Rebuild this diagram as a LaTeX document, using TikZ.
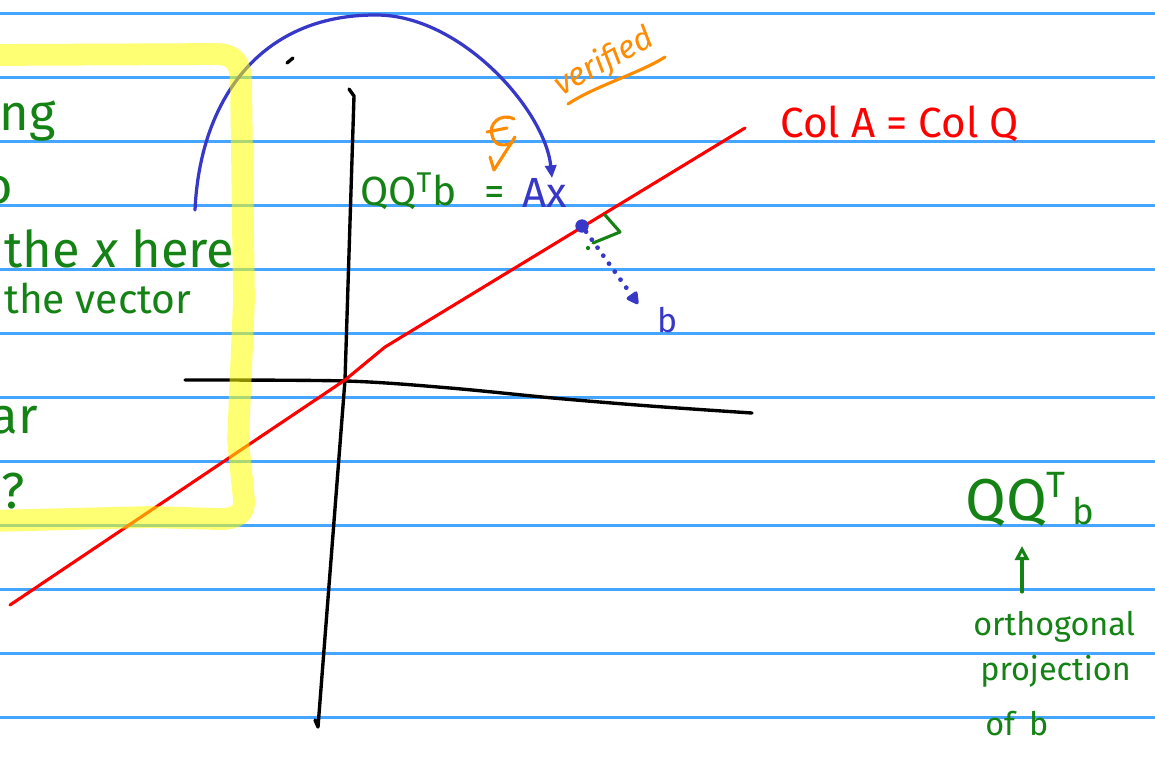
\documentclass[tikz,border=0pt]{standalone}
\usepackage{fontspec}
\setmainfont{Fira Sans}
\usetikzlibrary{arrows.meta}
\definecolor{ink}{RGB}{20,130,20}
\definecolor{pen}{RGB}{55,55,200}
\definecolor{hl}{RGB}{255,255,0}
\definecolor{org}{RGB}{255,140,0}
\definecolor{paperline}{RGB}{70,165,255}
\begin{document}
\begin{tikzpicture}[x=0.025cm,y=-0.025cm,
  ruleline/.style={draw=paperline, line width=1.5pt},
  axisline/.style={black, line width=2.4pt, line cap=round, line join=round},
  redline/.style={red, line width=2.2pt, line cap=round, line join=round},
  penline/.style={pen, line width=2.3pt, line cap=round, line join=round},
  orgline/.style={org, line width=2.2pt, line cap=round, line join=round},
  inkline/.style={ink, line width=2.2pt, line cap=round, line join=round},
  hlbox/.style={hl, draw opacity=0.55, line width=15.5pt, line cap=round, line join=round},
  greentxt/.style={text=ink, inner sep=0pt},
  bluetxt/.style={text=pen, inner sep=0pt},
  redtxt/.style={text=red, inner sep=0pt},
  orgtxt/.style={text=org, inner sep=0pt},
]
\clip (0,0) rectangle (1155,759);
\fill[white] (0,0) rectangle (1155,759);
\foreach \k in {0,...,11} {\draw[ruleline] (0,{13.5+64*\k}) -- (1155,{13.5+64*\k});}

% left (cut-off) text
\node[greentxt, anchor=base east, font=\fontsize{36}{40}\selectfont] (t1) at (56,130) {ng};
\node[greentxt, anchor=base east, font=\fontsize{36}{40}\selectfont] (t2) at (13,203) {o};
\node[greentxt, anchor=base west, font=\fontsize{36}{40}\selectfont] (t3) at (4,267) {the \textit{x} here};
\node[greentxt, anchor=base west, font=\fontsize{29}{34}\selectfont] (t4) at (4,313) {the vector};
\node[greentxt, anchor=base east, font=\fontsize{36}{40}\selectfont] (t5) at (38,433) {ar};
\node[greentxt, anchor=base east, font=\fontsize{36}{40}\selectfont] (t6) at (25,508) {?};

% axes
\draw[axisline] (349,89) -- (354,96) -- (345,380) -- (318,727) -- (315,720);
\draw[axisline] plot[smooth] coordinates {(185,380) (346,381) (450,388) (553,398) (650,406) (752,413)};
\draw[axisline] (287,63) -- (293,58);

% column space line
\draw[redline] (10,605) -- (345,380) -- (385,347) -- (745,128);
\node[redtxt, anchor=base west, font=\fontsize{30}{34}\selectfont] (col) at (780,137) {Col A = Col Q};

% equation
\node[greentxt, anchor=base west, font=\fontsize{29}{34}\selectfont] (qq) at (360,205) {QQ\textsuperscript{T}b};
\node[greentxt, anchor=base west, font=\fontsize{29}{34}\selectfont] (eqs) at (484,205) {=};
\node[bluetxt, anchor=base west, font=\fontsize{30}{34}\selectfont] (Ax) at (522,207) {Ax};

% curved blue arrow
\coordinate (cs) at (195,210);
\coordinate (ce) at (552,178);
\draw[penline, -{Triangle[length=9pt,width=8pt]}] (cs) .. controls (200,100) and (260,15) .. (375,15) .. controls (460,14) and (545,110) .. (ce);

% orange marks
\draw[orgline] (490,157) -- (494,170) -- (515,137);
\draw[orgline] (514,119) .. controls (500,112) and (488,125) .. (492,135) .. controls (494,145) and (502,147) .. (512,143);
\draw[orgline] (487,132) -- (507,128);
\node[orgtxt, rotate=29, font=\itshape\fontsize{23}{26}\selectfont] (ver) at (604,62) {verified};
\draw[orgline] (568,104) .. controls (595,86) and (640,73) .. (665,57);

% projection point and b
\node[circle, fill=pen, inner sep=0pt, minimum size=9.5pt] (P) at (582,226) {};
\coordinate (bt) at (638,304);
\draw[pen, line width=3.4pt, line cap=round, dash pattern=on 0pt off 7pt, -{Triangle[length=10pt,width=10pt,round]}] (P) -- (bt);
\node[bluetxt, anchor=base west, font=\fontsize{24}{28}\selectfont] (blab) at (657,332) {b};
\draw[inkline] (605,215) -- (620,232) -- (593,243);
\fill[ink] (588,248) circle (1.5pt);

% right-bottom note
\node[greentxt, anchor=base west] (qq2) at (965,520) {\fontsize{42}{46}\selectfont QQ{\fontsize{26}{30}\selectfont\raisebox{16pt}{T}\hspace{5pt}\raisebox{-3pt}{b}}};
\node[greentxt, anchor=base west, font=\fontsize{23}{27}\selectfont] (orth) at (973,635) {orthogonal};
\node[greentxt, anchor=base west, font=\fontsize{23}{27}\selectfont] (proj) at (980,680) {projection};
\node[greentxt, anchor=base west, font=\fontsize{23}{27}\selectfont] (ofb) at (985,735) {of\hspace{10pt}b};
\coordinate (gaS) at (1022,592);
\coordinate (gaE) at (1022,546);
\draw[inkline, -{Triangle[open,length=10pt,width=10pt]}] (gaS) -- (gaE);

% highlighter box (on top, translucent)
\draw[hlbox] (-10,55) -- (218,54) .. controls (234,55) and (240,62) .. (241,80) -- (244,300) -- (238,440) -- (244,500) .. controls (245,514) and (236,519) .. (220,519) -- (150,517) -- (-10,521);
\end{tikzpicture}
\end{document}
